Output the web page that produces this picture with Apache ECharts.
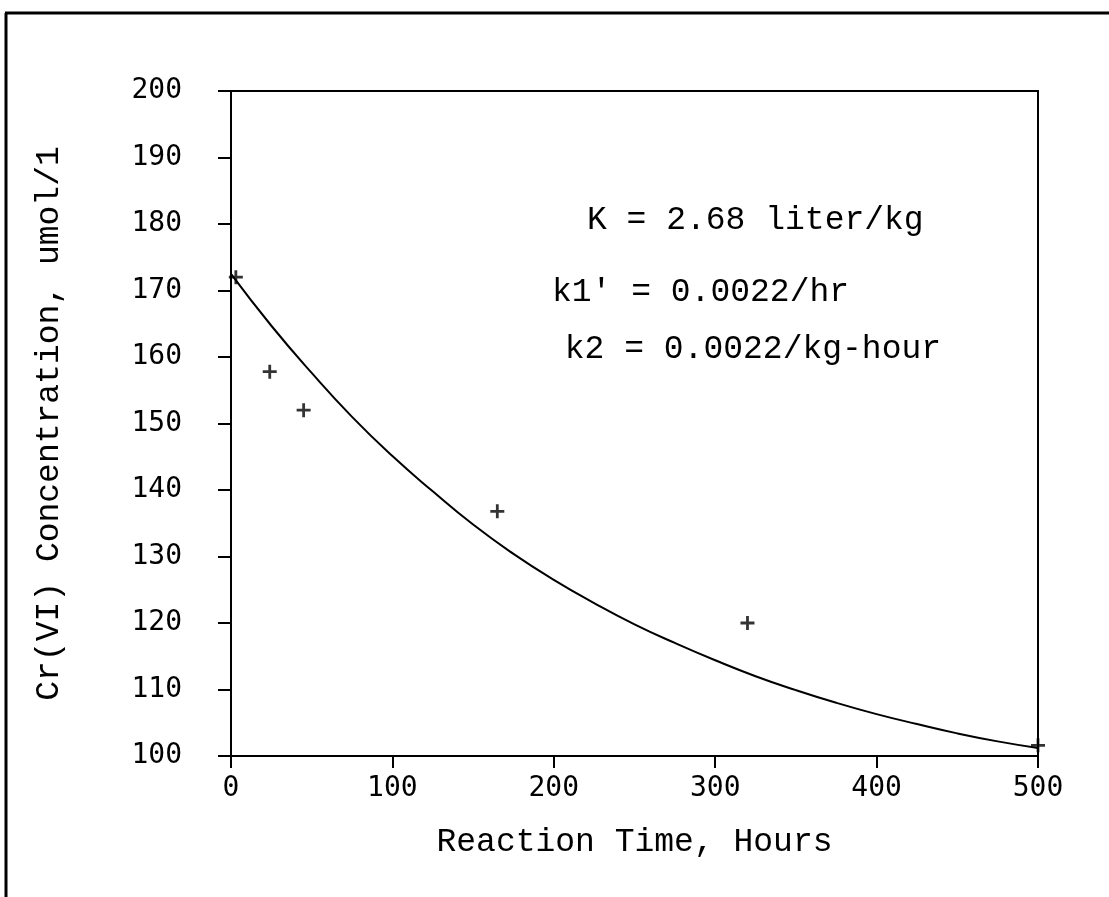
<!DOCTYPE html>
<html>
<head>
<meta charset="utf-8">
<script src="https://cdn.jsdelivr.net/npm/echarts@6/dist/echarts.min.js"></script>
<style>
html,body{margin:0;padding:0;background:#fff;}
#chart{width:1109px;height:897px;}
</style>
</head>
<body>
<div id="chart"></div>
<script>
// Measured data (hours, umol/l)
const obsHours = [3, 24, 45, 165, 320, 500];
const obsConc = [172, 157.8, 152, 136.8, 120, 101.6];
// Model curve
const fitHours = [0, 25, 50, 75, 100, 125, 150, 175, 200, 225, 250, 275, 300, 325, 350, 375, 400, 425, 450, 475, 500];
const fitConc = [172.5, 164.7, 157.6, 151.0, 145.1, 139.8, 134.8, 130.4, 126.5, 123.0, 119.8, 117.0, 114.4, 112.0, 109.9, 108.0, 106.3, 104.8, 103.4, 102.2, 101.2];
const xTicks = [0, 100, 200, 300, 400, 500];
const yTicks = [100, 110, 120, 130, 140, 150, 160, 170, 180, 190, 200];
const notes = ["K = 2.68 liter/kg", "k1' = 0.0022/hr", " k2 = 0.0022/kg-hour"];

const FONT = '"Liberation Mono", "DejaVu Sans Mono", monospace';
const NUMFONT = '"DejaVu Sans Mono", "Liberation Mono", monospace';
const chart = echarts.init(document.getElementById('chart'), null, {renderer: 'canvas'});

const option = {
  backgroundColor: '#fff',
  animation: false,
  grid: {left: 231, right: 71, top: 91, bottom: 141, show: true, borderColor: '#000', borderWidth: 2, backgroundColor: 'transparent'},
  xAxis: {
    type: 'value', min: xTicks[0], max: xTicks[xTicks.length - 1], interval: 100,
    name: 'Reaction Time, Hours', nameLocation: 'middle', nameGap: 70,
    nameTextStyle: {fontFamily: FONT, fontSize: 33, color: '#000'},
    axisLine: {lineStyle: {color: '#000', width: 2}},
    axisTick: {show: true, inside: false, length: 12, lineStyle: {color: '#000', width: 2}},
    axisLabel: {fontFamily: NUMFONT, fontSize: 28, color: '#000', margin: 19},
    splitLine: {show: false}
  },
  yAxis: {
    type: 'value', min: yTicks[0], max: yTicks[yTicks.length - 1], interval: 10,
    name: 'Cr(VI) Concentration, umol/1', nameLocation: 'middle', nameGap: 165,
    nameTextStyle: {fontFamily: FONT, fontSize: 33, color: '#000'},
    axisLine: {lineStyle: {color: '#000', width: 2}},
    axisTick: {show: true, inside: false, length: 13, lineStyle: {color: '#000', width: 2}},
    axisLabel: {fontFamily: NUMFONT, fontSize: 28, color: '#000', margin: 49},
    splitLine: {show: false}
  },
  graphic: [
    {type: 'line', shape: {x1: 5, y1: 13, x2: 1109, y2: 13}, style: {stroke: '#000', lineWidth: 3}},
    {type: 'line', shape: {x1: 6, y1: 13, x2: 6, y2: 897}, style: {stroke: '#000', lineWidth: 3}},
    {type: 'text', left: 587, top: 204, style: {text: notes[0], font: '33px ' + FONT, fill: '#000'}},
    {type: 'text', left: 552, top: 276, style: {text: notes[1], font: '33px ' + FONT, fill: '#000'}},
    {type: 'text', left: 545, top: 333, style: {text: notes[2], font: '33px ' + FONT, fill: '#000'}}
  ],
  series: [
    {
      type: 'line', data: fitHours.map((h, i) => [h, fitConc[i]]),
      smooth: true, showSymbol: false, symbol: 'none',
      lineStyle: {color: '#000', width: 2}, z: 3
    },
    {
      type: 'scatter', data: obsHours.map((h, i) => [h, obsConc[i]]),
      symbol: 'path://M5.6,0H8.4V14H5.6ZM0,5.6H14V8.4H0Z', symbolSize: 14,
      itemStyle: {color: '#000'}, z: 4
    }
  ]
};
chart.setOption(option);
</script>
</body>
</html>
